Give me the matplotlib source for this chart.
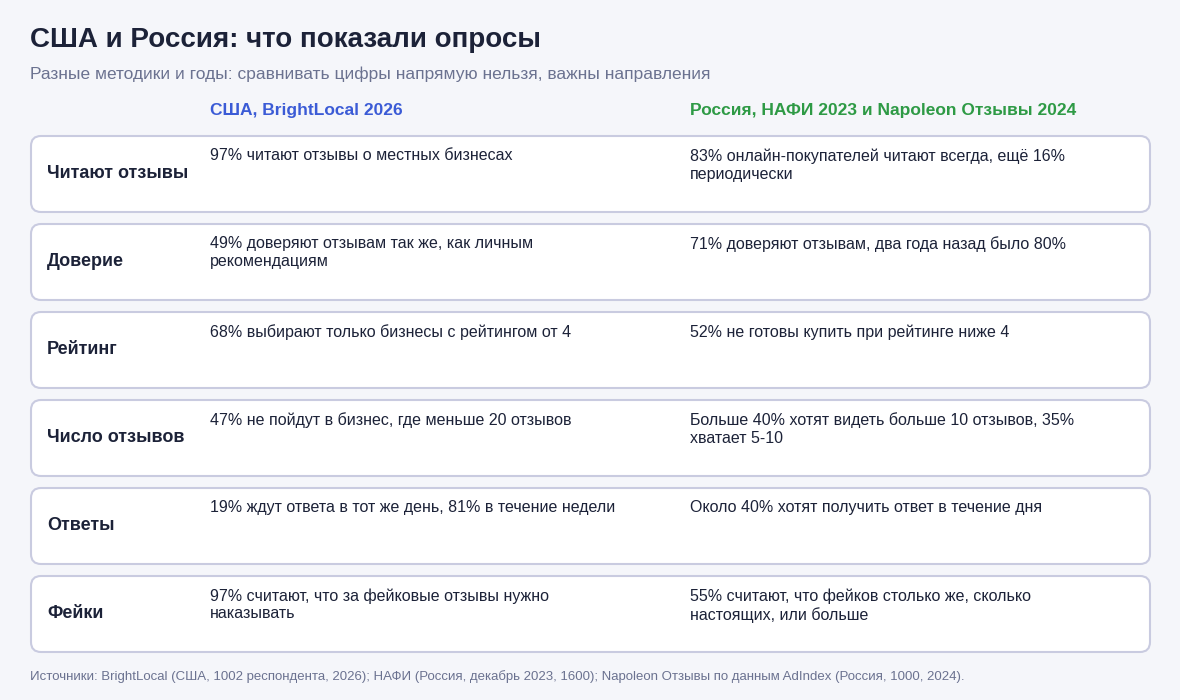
import matplotlib.pyplot as plt
from matplotlib.patches import FancyBboxPatch

# data
title = "США и Россия: что показали опросы"
subtitle = "Разные методики и годы: сравнивать цифры напрямую нельзя, важны направления"
col_headers = ["США, BrightLocal 2026", "Россия, НАФИ 2023 и Napoleon Отзывы 2024"]
row_labels = ["Читают отзывы", "Доверие", "Рейтинг", "Число отзывов", "Ответы", "Фейки"]
usa = [
    "97% читают отзывы о местных бизнесах",
    "49% доверяют отзывам так же, как личным\nрекомендациям",
    "68% выбирают только бизнесы с рейтингом от 4",
    "47% не пойдут в бизнес, где меньше 20 отзывов",
    "19% ждут ответа в тот же день, 81% в течение недели",
    "97% считают, что за фейковые отзывы нужно\nнаказывать",
]
russia = [
    "83% онлайн-покупателей читают всегда, ещё 16%\nпериодически",
    "71% доверяют отзывам, два года назад было 80%",
    "52% не готовы купить при рейтинге ниже 4",
    "Больше 40% хотят видеть больше 10 отзывов, 35%\nхватает 5-10",
    "Около 40% хотят получить ответ в течение дня",
    "55% считают, что фейков столько же, сколько\nнастоящих, или больше",
]
source = ("Источники: BrightLocal (США, 1002 респондента, 2026); НАФИ (Россия, декабрь 2023, 1600); "
          "Napoleon Отзывы по данным AdIndex (Россия, 1000, 2024).")

plt.rcParams['font.family'] = ['Liberation Sans', 'DejaVu Sans']
bg = "#f5f6fa"
dark = "#1c2238"
blue = "#3b5bd6"
green = "#2e9a45"

fig = plt.figure(figsize=(11.8, 7), dpi=100, facecolor=bg)
ax = fig.add_axes([0, 0, 1, 1])
ax.set_xlim(0, 1180)
ax.set_ylim(700, 0)
ax.axis("off")

ax.text(30, 40, title, fontsize=20, fontweight="bold", color=dark, va="center")
ax.text(30, 74, subtitle, fontsize=12.5, color="#6b7290", va="center")
ax.text(210, 111, col_headers[0], fontsize=12.5, fontweight="bold", color=blue, va="center")
ax.text(690, 111, col_headers[1], fontsize=12.5, fontweight="bold", color=green, va="center")

top0, h, step = 136, 76, 88
for i, lab in enumerate(row_labels):
    y = top0 + i * step
    box = FancyBboxPatch((31, y), 1119, h, boxstyle="round,pad=0,rounding_size=10",
                         facecolor="white", edgecolor="#c9cbe0", linewidth=1.5)
    ax.add_patch(box)
    ax.text(47, y + h / 2, lab, fontsize=13, fontweight="bold", color=dark, va="center")
    ax.text(210, y + 12, usa[i], fontsize=11.5, color=dark, va="top", linespacing=1.25)
    ax.text(690, y + 12, russia[i], fontsize=11.5, color=dark, va="top", linespacing=1.25)

ax.text(30, 677, source, fontsize=9.5, color="#6b7290", va="center")

fig.savefig("out.png", dpi=100, facecolor=bg)
